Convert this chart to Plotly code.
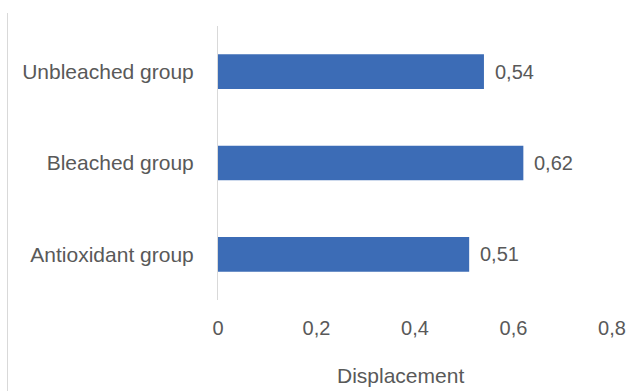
import plotly.graph_objects as go

# Displacement per treatment group
groups = ["Unbleached group", "Bleached group", "Antioxidant group"]
displacement = [0.54, 0.62, 0.51]
tick_vals = [0, 0.2, 0.4, 0.6, 0.8]

BAR_COLOR = "#3C6CB6"
TEXT_COLOR = "#595959"
FONT = "Liberation Sans, Arial, sans-serif"

fig = go.Figure(
    go.Bar(
        x=displacement,
        y=groups,
        orientation="h",
        marker=dict(color=BAR_COLOR, line=dict(width=0)),
        width=0.38,
        hoverinfo="x+y",
    )
)

# value labels just right of each bar
for g, v in zip(groups, displacement):
    fig.add_annotation(
        x=v, y=g, xref="x", yref="y",
        text=f"{v:.2f}".replace(".", ","),
        showarrow=False, xanchor="left", yanchor="middle",
        xshift=9, font=dict(size=20, color=TEXT_COLOR, family=FONT),
    )

# axis title
fig.add_annotation(
    x=(400 - 218) / 394, y=-(376 - 300) / 274, xref="paper", yref="paper",
    xanchor="center", yanchor="middle",
    text="Displacement", showarrow=False,
    font=dict(size=21, color=TEXT_COLOR, family=FONT),
)

# chart area border (left edge)
fig.add_shape(
    type="line", xref="paper", yref="paper",
    x0=(7.5 - 218) / 394, x1=(7.5 - 218) / 394,
    y0=(300 - 13) / 274, y1=-(391 - 300) / 274,
    line=dict(color="#D9D9D9", width=1),
)

fig.update_layout(
    width=643, height=391,
    margin=dict(l=218, r=31, t=26, b=91),
    paper_bgcolor="white", plot_bgcolor="white",
    separators=",.",
    showlegend=False,
    font=dict(family=FONT, size=20, color=TEXT_COLOR),
    xaxis=dict(
        range=[0, 0.8], tickvals=tick_vals,
        showgrid=False, zeroline=False, showline=False,
        ticks="", ticklabelstandoff=14,
        tickfont=dict(size=20, color=TEXT_COLOR, family=FONT),
    ),
    yaxis=dict(
        categoryorder="array", categoryarray=groups[::-1],
        range=[-0.5, 2.5],
        showgrid=False, zeroline=False,
        showline=True, linecolor="#D9D9D9", linewidth=1,
        ticks="", ticklabelstandoff=19,
        tickfont=dict(size=21, color=TEXT_COLOR, family=FONT),
    ),
)

fig.write_html("out.html")
